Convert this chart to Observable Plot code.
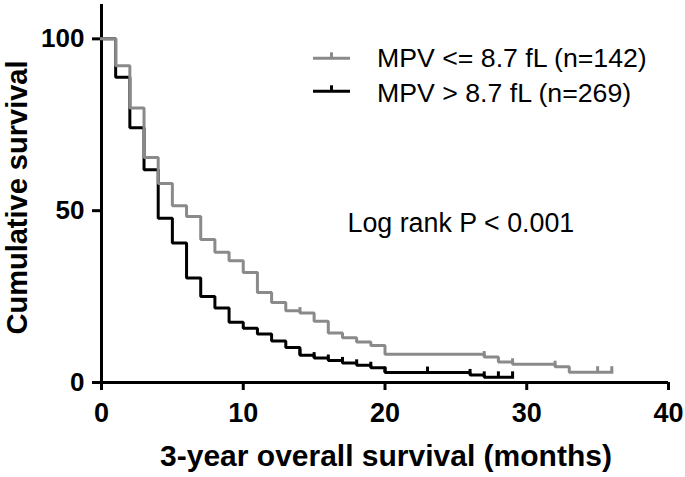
<!DOCTYPE html>
<html><head><meta charset="utf-8">
<script src="https://cdn.jsdelivr.net/npm/d3@7"></script>
<script src="https://cdn.jsdelivr.net/npm/@observablehq/plot@0.6"></script>
<style>
html,body{margin:0;padding:0;background:#fff;}
#chart{width:685px;height:477px;}
</style></head><body><div id="chart"></div>
<script>
// Kaplan–Meier steps (months, % survival)
const grayTimes = [0, 1, 2, 3, 4, 5, 6, 7, 8, 9, 10, 11, 12, 13, 14, 15, 16, 17, 18, 19, 20, 27, 28, 29, 32, 33, 36];
const graySurv  = [100, 92.2, 79.9, 65.5, 57.9, 51.4, 48.3, 41.6, 37.9, 35.4, 32.0, 26.2, 23.3, 20.9, 20.2, 17.8, 14.4, 13.0, 11.8, 10.8, 8.2, 7.4, 6.0, 5.3, 4.6, 3.0, 3.0];
const grayCensor = [14, 27, 29, 32, 35, 36];

const blackTimes = [0, 1, 2, 3, 4, 5, 6, 7, 8, 9, 10, 11, 12, 13, 14, 15, 16, 17, 18, 19, 20, 26, 27, 29];
const blackSurv  = [100, 88.8, 74.1, 61.9, 47.8, 40.6, 30.4, 25.0, 21.7, 17.5, 15.8, 14.1, 12.1, 10.2, 7.9, 7.1, 6.4, 5.7, 5.0, 4.3, 2.9, 2.2, 1.5, 1.5];
const blackCensor = [14, 15, 16, 17, 18, 19, 20, 23, 26, 27, 28, 29];

const xTicks = [0, 10, 20, 30, 40];
const yTicks = [0, 50, 100];

const seriesLabels = ["MPV <= 8.7 fL (n=142)", "MPV > 8.7 fL (n=269)"];
const seriesColors = ["#8a8a8a", "#000000"];
const annotation = "Log rank P < 0.001";
const xTitle = "3-year overall survival (months)";
const yTitle = "Cumulative survival";

function stepAt(times, surv, t) {
  let v = surv[0];
  for (let i = 0; i < times.length; i++) if (times[i] <= t) v = surv[i];
  return v;
}
const grayData = grayTimes.map((t, i) => ({t, s: graySurv[i]}));
const blackData = blackTimes.map((t, i) => ({t, s: blackSurv[i]}));
const grayCens = grayCensor.map(t => ({t, s: stepAt(grayTimes, graySurv, t)}));
const blackCens = blackCensor.map(t => ({t, s: stepAt(blackTimes, blackSurv, t)}));

const lineOpts = {x: "t", y: "s", curve: "step-after", strokeWidth: 3, strokeLinejoin: "miter", strokeLinecap: "square"};

const plot = Plot.plot({
  width: 685, height: 477,
  marginLeft: 101, marginRight: 17, marginTop: 4, marginBottom: 95,
  x: {domain: [0, 40]},
  y: {domain: [0, 110]},
  style: "font-family: 'Liberation Sans', Arial, sans-serif; background: #fff;",
  marks: [
    Plot.axisX({ticks: xTicks, tickSize: 8, tickPadding: 12, strokeWidth: 3, fontSize: 27, fontWeight: "bold", label: null, tickFormat: d => String(d)}),
    Plot.axisY({ticks: yTicks, tickSize: 9, tickPadding: 8, strokeWidth: 3, fontSize: 26, fontWeight: "bold", label: null, tickFormat: d => String(d)}),
    Plot.ruleY([0], {strokeWidth: 3}),
    Plot.ruleX([0], {strokeWidth: 3}),
    Plot.line(blackData, {...lineOpts, stroke: seriesColors[1]}),
    Plot.ruleX(blackCens, {x: "t", y1: "s", y2: d => d.s + 1.6, stroke: seriesColors[1], strokeWidth: 3}),
    Plot.line(grayData, {...lineOpts, stroke: seriesColors[0]}),
    Plot.ruleX(grayCens, {x: "t", y1: "s", y2: d => d.s + 1.6, stroke: seriesColors[0], strokeWidth: 3})
  ]
});
document.getElementById("chart").appendChild(plot);

const svg = d3.select(plot);
const ff = "'Liberation Sans', Arial, sans-serif";
// legend
const leg = svg.append("g");
const legY = [58.3, 91.3];
const baseY = [66.7, 101.7];
seriesLabels.forEach((lab, i) => {
  leg.append("line").attr("x1", 313).attr("x2", 350).attr("y1", legY[i]).attr("y2", legY[i])
    .attr("stroke", seriesColors[i]).attr("stroke-width", 3);
  leg.append("line").attr("x1", 331.5).attr("x2", 331.5).attr("y1", legY[i]).attr("y2", legY[i] - 6)
    .attr("stroke", seriesColors[i]).attr("stroke-width", 3);
  leg.append("text").attr("x", 377).attr("y", baseY[i]).attr("font-size", 26.7)
    .attr("font-family", ff).attr("text-anchor", "start").attr("fill", "#000").text(lab);
});
svg.append("text").attr("x", 347.5).attr("y", 231.7).attr("font-size", 26.8).attr("font-family", ff)
  .attr("text-anchor", "start").attr("fill", "#000").text(annotation);
svg.append("text").attr("x", 386).attr("y", 466).attr("font-size", 30).attr("font-weight", "bold")
  .attr("font-family", ff).attr("text-anchor", "middle").attr("fill", "#000").text(xTitle);
svg.append("text").attr("transform", "translate(27,197.5) rotate(-90)").attr("font-size", 29)
  .attr("font-weight", "bold").attr("font-family", ff).attr("text-anchor", "middle").attr("fill", "#000").text(yTitle);
</script></body></html>
